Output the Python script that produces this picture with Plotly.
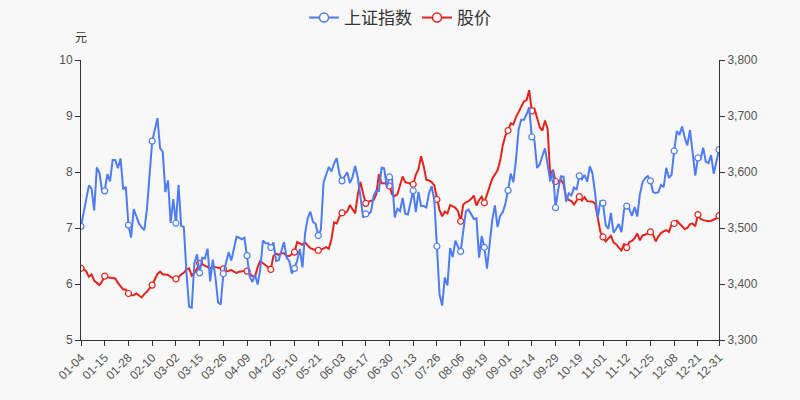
import datetime as dt
import plotly.graph_objects as go

# 2021 exchange holidays (weekdays with no trading)
holidays = ["2021-01-01", "2021-02-11", "2021-02-12", "2021-02-15", "2021-02-16", "2021-02-17",
            "2021-04-05", "2021-05-03", "2021-05-04", "2021-05-05", "2021-06-14",
            "2021-09-20", "2021-09-21", "2021-10-01", "2021-10-04", "2021-10-05", "2021-10-06", "2021-10-07"]

dates = []
d = dt.date(2021, 1, 1)
while d.year == 2021:
    if d.weekday() < 5 and d.isoformat() not in holidays:
        dates.append(d.strftime("%m-%d"))
    d += dt.timedelta(days=1)

sse = [
    # Jan
    3502.96, 3528.68, 3550.88, 3576.20, 3570.11, 3531.50, 3608.34, 3598.65, 3565.90, 3566.38,
    3596.22, 3583.09, 3621.26, 3621.39, 3606.75, 3624.24, 3569.43, 3573.34, 3505.18, 3483.07,
    # Feb
    3533.68, 3520.00, 3508.00, 3501.00, 3496.33, 3532.71, 3603.49, 3655.09, 3675.36, 3696.17,
    3642.44, 3636.36, 3564.08, 3585.05, 3509.08,
    # Mar
    3551.40, 3508.59, 3576.90, 3503.49, 3501.99, 3421.41, 3359.29, 3357.74, 3436.83, 3453.08,
    3419.95, 3446.73, 3445.55, 3463.07, 3404.66, 3443.44, 3411.51, 3367.06, 3363.59, 3418.33,
    3435.30, 3456.68, 3441.91,
    # Apr
    3466.33, 3484.39, 3482.55, 3479.63, 3482.56, 3450.68, 3412.95, 3403.56, 3416.69, 3398.99,
    3426.62, 3477.55, 3472.94, 3472.93, 3465.11, 3474.17, 3441.17, 3442.61, 3457.07, 3474.90,
    3446.86,
    # May
    3441.28, 3418.87, 3427.99, 3441.85, 3462.75, 3429.54, 3490.38, 3517.62, 3529.01, 3510.96,
    3506.94, 3486.56, 3497.28, 3581.34, 3593.36, 3608.85, 3600.78, 3615.48,
    # Jun
    3624.71, 3597.14, 3584.22, 3591.84, 3599.54, 3580.11, 3591.40, 3610.86, 3589.75, 3556.56,
    3518.33, 3525.10, 3525.10, 3529.18, 3557.41, 3566.65, 3566.22, 3607.56, 3606.37, 3573.18,
    3591.20,
    # Jul
    3588.78, 3518.76, 3534.32, 3530.26, 3553.72, 3525.50, 3524.09, 3547.84, 3566.60, 3528.50,
    3564.59, 3539.30, 3539.12, 3536.79, 3562.22, 3574.73, 3550.40, 3467.44, 3381.18, 3361.59,
    3411.72, 3397.36,
    # Aug
    3464.29, 3447.99, 3477.22, 3466.56, 3458.23, 3494.63, 3529.93, 3532.62, 3524.74, 3516.30,
    3517.34, 3446.98, 3485.29, 3465.55, 3427.33, 3477.13, 3514.47, 3540.38, 3501.66, 3522.16,
    3528.15, 3543.94,
    # Sep
    3567.10, 3597.04, 3581.73, 3621.86, 3676.59, 3693.13, 3693.13, 3703.11, 3715.37, 3662.60,
    3656.22, 3607.09, 3613.97, 3628.49, 3642.22, 3613.07, 3582.83, 3602.22, 3536.29, 3568.17,
    # Oct
    3592.17, 3591.71, 3546.94, 3561.76, 3558.28, 3572.37, 3568.14, 3593.15, 3587.00, 3594.78,
    3582.60, 3609.86, 3597.64, 3562.31, 3518.42, 3547.34,
    # Nov
    3544.48, 3505.63, 3498.54, 3526.87, 3491.57, 3498.63, 3507.00, 3492.46, 3532.79, 3539.10,
    3533.30, 3521.79, 3537.37, 3520.71, 3560.37, 3582.08, 3589.09, 3592.70, 3584.18, 3564.09,
    3562.70, 3563.89,
    # Dec
    3576.89, 3573.18, 3607.43, 3589.31, 3595.09, 3637.57, 3673.04, 3666.35, 3681.08, 3661.53,
    3647.63, 3675.02, 3632.36, 3593.60, 3625.13, 3622.62, 3643.34, 3618.05, 3615.97, 3630.11,
    3597.00, 3619.19, 3639.78,
]

price = [
    6.28, 6.27, 6.22, 6.13, 6.17, 6.06, 6.02, 5.98, 6.05, 6.14, 6.12, 6.11, 6.11, 6.10, 6.02, 5.95,
    5.90, 5.90, 5.83, 5.80, 5.80, 5.83, 5.80, 5.76, 5.82, 5.86, 5.92, 5.98, 6.08, 6.18, 6.22, 6.17,
    6.17, 6.16, 6.13, 6.10, 6.09, 6.12, 6.17, 6.20, 6.26, 6.28, 6.15, 6.20, 6.27, 6.37, 6.35, 6.33,
    6.30, 6.28, 6.31, 6.30, 6.28, 6.28, 6.27, 6.22, 6.23, 6.25, 6.22, 6.20, 6.22, 6.23, 6.23,
    6.23, 6.19, 6.14, 6.13, 6.30, 6.41, 6.37, 6.33, 6.29, 6.26, 6.50, 6.54, 6.52, 6.55, 6.55, 6.50,
    6.50, 6.54, 6.57, 6.75, 6.72, 6.70, 6.74, 6.69, 6.64, 6.62, 6.61, 6.60, 6.61, 6.63, 6.66, 6.63,
    6.80, 7.10, 7.08, 7.20, 7.27, 7.26, 7.30, 7.41, 7.33, 7.26, 7.60, 7.82, 7.62, 7.44, 7.47, 7.48,
    7.50, 7.60, 7.96, 7.80, 7.80, 7.78, 7.75, 7.60, 7.57, 7.60, 7.75, 7.92, 7.82, 7.80, 7.79, 7.78,
    7.95, 8.05, 8.28, 8.10, 7.86, 7.85, 7.82, 7.76, 7.51, 7.32, 7.21, 7.29, 7.26, 7.41, 7.39, 7.36,
    7.30, 7.12, 7.42, 7.46, 7.48, 7.52, 7.58, 7.40, 7.50, 7.56, 7.45, 7.61, 7.74, 7.88, 7.96, 8.03,
    8.20, 8.48, 8.65,
    8.74, 8.87, 8.85, 8.98, 9.07, 9.15, 9.26, 9.28, 9.46, 9.09, 9.13, 8.97, 8.80, 8.74, 8.92, 8.77,
    7.92, 8.04, 7.83, 7.82, 7.86, 7.79, 7.55, 7.50, 7.48, 7.42, 7.50, 7.56, 7.49, 7.55, 7.48, 7.48,
    7.47, 7.44, 7.20, 6.93, 6.84, 6.76, 6.81, 6.86, 6.74, 6.71, 6.65, 6.60, 6.72, 6.65, 6.75, 6.77,
    6.82, 6.90, 6.78, 6.87, 6.88, 6.90, 6.93, 6.88, 6.76, 6.85, 6.91, 6.94, 6.96, 6.93, 7.06, 7.08,
    7.13, 7.08, 7.02, 6.98, 7.00, 7.07, 7.08, 7.03, 7.24, 7.16, 7.14, 7.13, 7.12, 7.13, 7.15, 7.17,
    7.22,
]

series_names = ["上证指数", "股价"]
left_ticks = [5, 6, 7, 8, 9, 10]
right_ticks = [3300, 3400, 3500, 3600, 3700, 3800]

n = len(dates)
step = 9
mark_idx = list(range(0, n, step))
if mark_idx[-1] != n - 1:
    mark_idx.append(n - 1)
tick_vals = [dates[i] for i in mark_idx]

BLUE = "#4d7cf6"
RED = "#e8221b"
BG = "#f8f8f8"
FONT = "Liberation Sans, Noto Sans CJK SC, sans-serif"

fig = go.Figure()
for name, vals, col, axis in [(series_names[0], sse, BLUE, "y2"), (series_names[1], price, RED, "y")]:
    fig.add_trace(go.Scatter(x=dates, y=vals, mode="lines", line=dict(color=col, width=2),
                             yaxis=axis, showlegend=False, hoverinfo="x+y"))
    fig.add_trace(go.Scatter(x=[dates[i] for i in mark_idx], y=[vals[i] for i in mark_idx],
                             mode="markers", yaxis=axis, showlegend=False,
                             marker=dict(size=6, color="white", line=dict(color=col, width=1.2))))
for name, col in [(series_names[0], BLUE), (series_names[1], RED)]:
    fig.add_trace(go.Scatter(x=[None], y=[None], mode="lines+markers", name=name,
                             line=dict(color=col, width=2),
                             marker=dict(size=9, color="white", line=dict(color=col, width=1.5))))

axis_line = "#333333"
fig.update_layout(
    width=800, height=400,
    paper_bgcolor=BG, plot_bgcolor=BG,
    margin=dict(l=81, r=81, t=60, b=60),
    font=dict(family=FONT, size=12, color="#555"),
    legend=dict(orientation="h", x=0.5, xanchor="center", y=1.0, yanchor="top", yref="container",
                font=dict(size=17, color="#333"), bgcolor="rgba(0,0,0,0)", itemwidth=30),
    xaxis=dict(type="category", range=[0, n - 1], tickmode="array", tickvals=tick_vals,
               ticktext=tick_vals, tickangle=-45, showgrid=False, zeroline=False,
               showline=True, linecolor=axis_line, linewidth=1, ticks="outside",
               tickcolor=axis_line, ticklen=5, tickfont=dict(size=12, color="#555")),
    yaxis=dict(range=[5, 10], tickvals=left_ticks, showgrid=False, zeroline=False,
               showline=True, linecolor=axis_line, linewidth=1, ticks="outside",
               tickcolor=axis_line, ticklen=5, tickfont=dict(size=12, color="#555")),
    yaxis2=dict(range=[3300, 3800], tickvals=right_ticks, overlaying="y", side="right",
                tickformat=",d", showgrid=False, zeroline=False,
                showline=True, linecolor=axis_line, linewidth=1, ticks="outside",
                tickcolor=axis_line, ticklen=5, tickfont=dict(size=12, color="#555")),
    annotations=[dict(text="元", xref="paper", yref="paper", x=0, y=1.08, xanchor="center",
                      yanchor="middle", showarrow=False, font=dict(size=12, color="#333"))],
)

fig.write_html("out.html")
